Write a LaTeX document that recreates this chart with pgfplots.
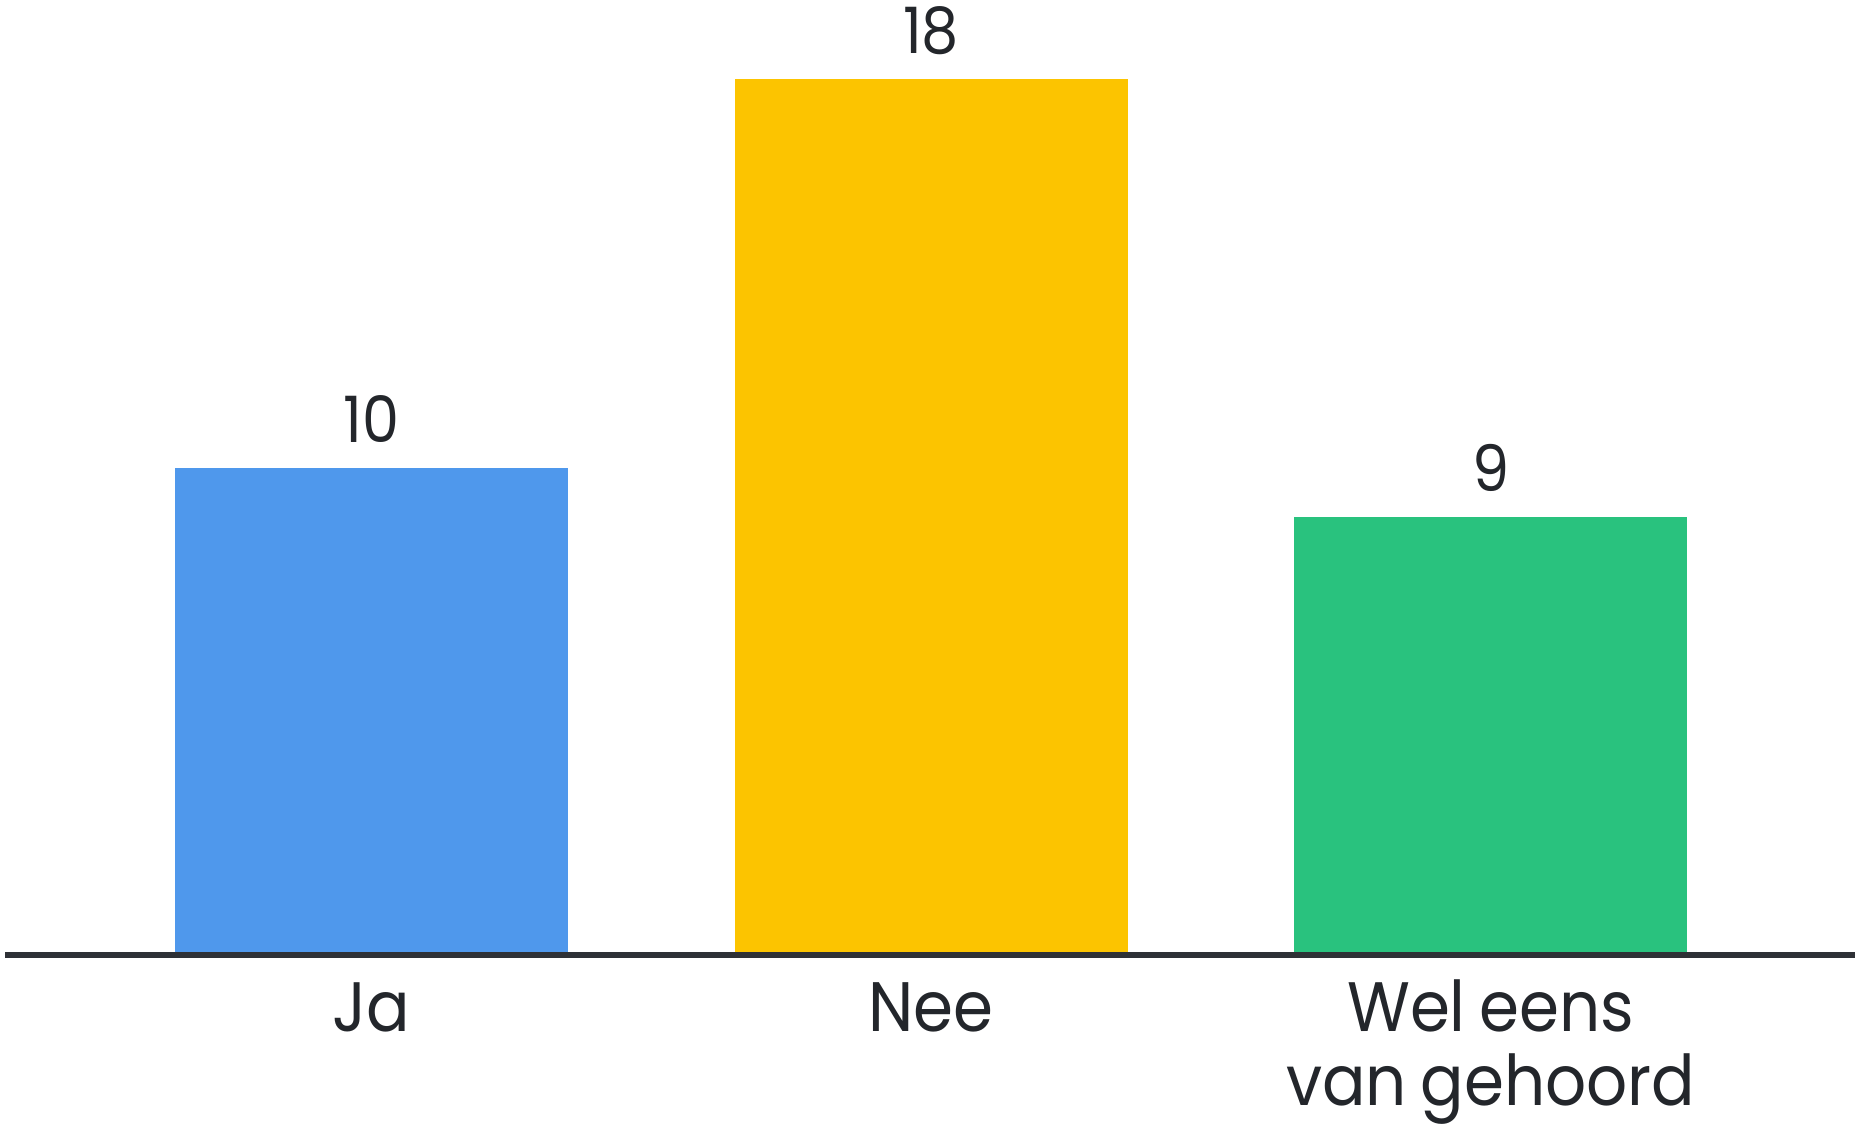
\documentclass[border=0pt]{standalone}
\usepackage{fontspec}
\setmainfont{Poppins}[FakeStretch=0.92, WordSpace=0.8]
\usepackage{pgfplots}
\pgfplotsset{compat=1.18}
\definecolor{cblue}{HTML}{4F98EC}
\definecolor{cyellow}{HTML}{FCC400}
\definecolor{cgreen}{HTML}{29C27E}
\definecolor{axisc}{HTML}{2E3136}
\definecolor{textc}{HTML}{23262B}
\begin{document}
\begin{tikzpicture}
\useasboundingbox (-1.25pt,-42.25pt) rectangle (462.5pt,238.75pt);
\begin{axis}[
  at={(0,0)}, anchor=south west,
  scale only axis, width=462.5pt, height=238.75pt,
  xmin=-0.655, xmax=2.651, ymin=0, ymax=19.62,
  axis x line=bottom, axis y line=none,
  x axis line style={-, line width=1.5pt, color=axisc},
  axis on top=true,
  /pgf/number format/assume math mode=true,
  xtick={0,1,2},
  xticklabels={Ja,Nee,{\begin{tabular}[t]{@{}c@{}}Wel eens\\van gehoord\end{tabular}}},
  major tick length=0pt,
  xticklabel style={anchor=base, yshift=-19.25pt, font=\fontsize{17.5}{17.9}\selectfont, text=textc, inner sep=0pt},
  ybar, bar width=0.702, bar shift=0pt,
  nodes near coords,
  nodes near coords style={anchor=base, yshift=6.4pt, inner sep=0pt, font=\fontsize{16}{16}\selectfont, text=textc},
  clip=false,
]
\addplot[fill=cblue, draw=none] coordinates {(0,10)};
\addplot[fill=cyellow, draw=none] coordinates {(1,18)};
\addplot[fill=cgreen, draw=none] coordinates {(2,9)};
\end{axis}
\end{tikzpicture}
\end{document}
